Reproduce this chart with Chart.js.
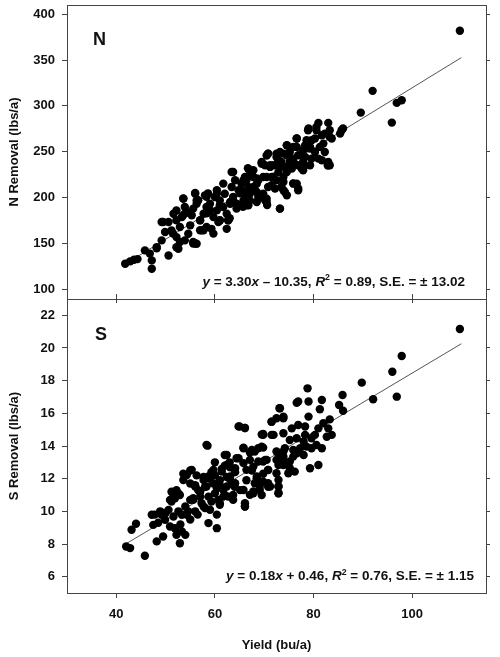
<!DOCTYPE html>
<html>
<head>
<meta charset="utf-8">
<script src="https://cdn.jsdelivr.net/npm/chart.js@4.4.1/dist/chart.umd.min.js"></script>
<style>
  body { margin: 0; background: #fff; }
  #wrap { position: relative; width: 500px; height: 657px; }
  canvas { position: absolute; left: 0; }
  #topChart { top: 0; }
  #bottomChart { top: 294px; }
</style>
</head>
<body>
<div id="wrap">
  <canvas id="topChart" width="500" height="310"></canvas>
  <canvas id="bottomChart" width="500" height="363"></canvas>
</div>
<script>
// x axis (yield) tick labels, shared by both panels
var yieldTicks = [40, 60, 80, 100];
var nTicks = [100, 150, 200, 250, 300, 350, 400];
var sTicks = [6, 8, 10, 12, 14, 16, 18, 20, 22];

// N removal panel: yield (bu/a) and N removal (lbs/a)
var nYield = [41.8, 42.8, 43.6, 44.3, 45.8, 46.8, 47.2, 47.2, 48.2, 49.2, 50.6, 49.2, 50.6, 51.2, 51.6, 52.2,
  52.9, 52.6, 53.3, 53.9, 53.6, 54.6, 55, 55.6, 55.3, 56.3, 56, 56.6, 57, 57.7, 57.3, 58.3, 58.3, 59, 58,
  59.7, 60, 60.4, 60.7, 61, 61.7, 62, 62.4, 62.7, 63.1, 63.4, 63.7, 64.4, 64.8, 65.4, 65.8, 66.4, 66.4,
  67.1, 67.8, 68.5, 68.8, 69.5, 69.8, 70.2, 70.5, 70.8, 62.4, 59.3, 54.3, 49.9, 52.2, 56.3,
  48.2, 52.2, 52.9, 51.5, 49.5, 53.5, 53.9, 56.3, 55.6, 56, 57, 58.3, 58.6, 60.4, 61, 63, 63.7, 63.7,
  65.1, 66.4, 65.7, 66.7, 66.4,
  92, 89.6, 96.9, 97.9, 95.9, 85.7, 85.4, 86, 83, 81, 83.3, 83.3, 83.7, 82.3, 81.7, 80.6, 80.3, 78.9,
  79.6, 78.6, 78.3, 77.9, 79.3, 80.3, 81.3, 82, 82.3, 81.7, 83, 83.3, 81, 79.6, 79.3, 77.9, 77.6, 78.3,
  76.9, 76.6, 76.6, 75.9, 75.2, 74.6, 74.6, 73.9, 73.2, 72.9, 72.5, 73.5, 74.2, 75.2, 75.9, 76.2, 76.9,
  75.6, 74.6, 73.9, 72.9, 71.9, 70.8, 71.2, 70.2, 69.5, 71.5, 70.5, 72.5, 73.5, 72.2, 71.5, 75.9, 76.9,
  74.6, 73.2, 69.8, 70.5, 68.8, 67.8, 67.1, 66.4, 65.8, 68.1, 66.8, 66.1, 67.1, 65.8, 68.5, 69.1, 109.7,
  73.9, 70.6, 77.9, 82.9, 75.9,
  53.6, 56, 58.3, 56.6, 60.4, 61.7, 63.4, 64.1, 66.1, 67.1, 68.5, 69.5, 70.8, 71.2, 72.5, 73.2, 74.6,
  76.6, 79, 80.6, 77.9, 76.6, 76.9, 74.2, 73.2, 70.5, 69.8, 66.8, 66.4, 62.7, 61, 59, 57, 55.6, 53.9,
  52.2, 57.7, 59.7, 64.4, 67.8, 71.8, 75.2, 79.3, 77.9, 73.9, 68.5, 65.4, 63.1, 61];
var nRemoval = [128, 130.5, 132.3, 133, 142.5, 139, 131.6, 122.5, 146.1, 153.4, 137, 173.4, 173.4, 164.3,
  182.5, 157, 168, 144.3, 178.9, 153.4, 198.9, 160.7, 169.8, 151.6, 180.7, 149.8, 204.3, 197, 175.2, 182.5,
  164.3, 168, 189.8, 193.4, 202.5, 178.9, 200.7, 186.1, 173.4, 197, 189.8, 204.3, 182.5, 175.2, 193.4,
  211.6, 200.7, 188, 208, 215.2, 197, 222.5, 191.6, 204.3, 229.8, 215.2, 200.7, 237, 222.5, 197, 246,
  211.6, 166, 166, 184, 162.5, 186, 193.4,
  144.7, 146, 151.6, 161, 173.4, 180.6, 189.8, 197, 150, 150, 164.4, 183, 204.7, 208, 175, 177.5, 197,
  228, 204.7, 219, 190, 232, 197,
  316.4, 292.7, 303.3, 306.2, 281.8, 273.5, 269.8, 275.3, 281.5, 281.5, 273.5, 266.2, 264.4, 269.8, 268,
  273.5, 264.4, 273.5, 262.5, 262.5, 257, 251.6, 253.5, 249.8, 255.3, 258.9, 249.8, 240.7, 238.9, 235.3,
  242.5, 242.5, 235.3, 238.9, 231.6, 244.4, 246.2, 255.3, 264.4, 255.3, 249.8, 257, 246.2, 248, 249.8,
  240.7, 244.4, 238.9, 233.5, 240.7, 242.5, 237.1, 235.3, 231.6, 228, 222.5, 228, 235.3, 248, 233.5,
  235.3, 238.9, 222.5, 222.5, 218.9, 211.6, 209.8, 213.5, 215.3, 208, 202.5, 188, 204.4, 198.9, 218.9,
  222.5, 229.8, 222.5, 218.9, 208, 211.6, 204.4, 197, 193.5, 195.3, 200.7, 382,
  208, 192, 232, 235, 215.5,
  199, 205, 200.8, 197.1, 204.4, 215.3, 228, 218.9, 222.6, 229.9, 220.8, 237.9, 248, 235.3, 248, 233.5,
  257.1, 264.4, 275.3, 277.1, 244.4, 215.3, 209.9, 206.2, 188, 195.3, 202.6, 191.7, 200.8, 175.3, 175.3,
  186.2, 175.3, 188, 182.6, 175.3, 164.4, 160.8, 193.5, 211.7, 222.6, 237.1, 255.3, 229.9, 217.1, 206.2,
  208, 195.3, 191.7];
// slope, intercept, R2, S.E.
var nFit = [3.30, -10.35, 0.89, 13.02];

// S removal panel: yield (bu/a) and S removal (lbs/a)
var sYield = [42, 42.8, 45.8, 43.1, 44, 47.2, 47.5, 48.2, 49.5, 49.2, 49.9, 50.6, 51.2, 51.2, 52.2, 51.6,
  50.9, 51.9, 52.2, 52.9, 53.3, 54, 54.3, 53.3, 52.6, 53.6, 55, 55, 55.6, 56, 56.6, 57.3, 57.7, 58.3, 58.7,
  58.7, 59, 59.3, 59.7, 60, 60.4, 60.7, 61, 61.4, 61.7, 62, 62.4, 62.7, 63.1, 63.4, 63.7, 64.1, 64.4, 64.8,
  66.1, 65.1, 65.8, 65.8, 66.1, 66.4, 67.1, 67.5, 67.8, 68.5, 68.8, 69.5, 69.8, 69.8, 70.5, 70.8,
  55, 57, 60.4, 56.3, 51.6, 52.6, 58, 59, 60, 61, 62, 63, 64, 61, 62, 63, 60, 57, 58, 56, 53, 54, 55, 56.5,
  50, 48.5,
  109.7, 97.9, 96, 96.9, 89.8, 92.1, 85.9, 85.2, 86, 78.8, 76.9, 79, 81.7, 81.3, 73.1, 73.9, 72.5, 71.5,
  83.3, 82, 83, 83.7, 82.7, 79, 81, 80.3, 78.3, 76.9, 75.6, 78.3, 76.6, 73.9, 71.9, 69.8, 75.2, 78, 79.6,
  80.6, 79.6, 81.7, 78.6, 77.3, 75.9, 74.2, 76.6, 78, 75.9, 73.9, 72.9, 73.5, 72.5, 74.2, 72.9, 75.2, 76.2,
  74.9, 79.3, 81, 69.5, 68.1, 69.8, 67.8, 70.8, 68.5, 69.8, 70.8, 72.5, 72.9, 72.9, 72.9, 69.1, 67.8,
  69.5, 68.1,
  58.5, 65, 66.1, 73.2, 73.9, 76.6, 71.5, 69.8, 71.5, 65.8, 67.5, 68.8, 62.4, 64.8, 67.1, 70.2, 72.5, 73.9,
  75.2, 73.9, 70.8, 68.5, 66.4, 64.1, 62.4, 61.4, 63.1, 59.7, 58.7, 57.7, 55.3, 54.3, 53.6, 56, 57, 58.3,
  60.4, 62.4, 64.1, 65.8, 67.1, 69.1, 71.2, 72.9, 72.9, 61.7, 63.7, 59.3, 61, 57.7, 55.6, 52.9, 51.9, 50.9,
  66.1, 66.1, 54.6, 48.9, 47.8];
var sRemoval = [7.85, 7.75, 7.28, 8.87, 9.24, 9.79, 9.17, 8.16, 8.46, 9.79, 9.48, 10.09, 10.6, 11.2, 11.3,
  9.68, 9.07, 8.97, 8.56, 8.05, 8.77, 8.56, 9.79, 9.79, 10, 12.3, 12.5, 11.7, 10.7, 10, 11.3, 10.5, 12.1,
  14.07, 10.9, 9.28, 10.1, 12.4, 11.7, 11.1, 8.97, 10.7, 11.9, 12.6, 11.3, 13.45, 12.1, 10.9, 12.7, 11.7,
  10.7, 12.4, 13.25, 15.2, 15.1, 11.3, 13.9, 12.95, 10.3, 11.9, 13.6, 12.5, 11.1, 11.9, 13.05, 14.7, 13.9,
  12.3, 13.15, 11.5,
  10.7, 10.9, 9.8, 12.2, 10.9, 11.1, 11.5, 12, 12.2, 11.6, 12.8, 12, 11.5, 10.5, 11, 13, 13, 11.2, 10.2,
  11.6, 9.2, 10.3, 9.5, 9.8, 9.9, 9.3,
  21.16, 19.51, 18.55, 17.02, 17.88, 16.86, 17.12, 16.51, 16.16, 17.53, 16.72, 16.72, 16.82, 16.25, 16.31,
  15.7, 15.7, 15.49, 15.63, 15.39, 15.08, 14.68, 14.57, 15.8, 15.08, 14.68, 15.19, 15.29, 15.08, 14.68,
  14.47, 14.78, 14.68, 14.68, 14.37, 14.27, 14.47, 14.06, 13.86, 13.86, 13.96, 13.86, 13.76, 13.86, 13.55,
  13.45, 13.35, 13.66, 13.55, 13.15, 13.15, 12.94, 12.84, 12.64, 12.43, 12.33, 12.64, 12.84, 13.96, 13.66,
  13.05, 12.74, 12.53, 12.13, 11.82, 11.72, 12.33, 11.92, 11.52, 11.11, 11.52, 11.21, 11, 11.72,
  14.02, 15.19, 15.1, 16.31, 15.8, 16.65, 15.49, 14.74, 14.68, 13.86, 13.76, 13.86, 13.45, 13.25, 13.15,
  13.15, 13.66, 13.35, 13.05, 12.84, 12.54, 12.03, 12.54, 12.64, 12.84, 12.43, 12.13, 12.54, 12.13, 11.92,
  12.54, 12.23, 11.92, 11.52, 11.21, 11.52, 11.41, 11.52, 11.72, 11.31, 11.01, 11.31, 11.52, 11.11, 11.52,
  10.9, 11, 10.6, 10.4, 10.3, 10.8, 11, 10.8, 10.7, 10.5, 10.3, 10, 10, 9.8];
var sFit = [0.18, 0.46, 0.76, 1.15];
// the fitted lines run over this yield range
var fitRange = [42, 110];

var FONT = "'Liberation Sans', Arial, sans-serif";
var INK = '#111';
var FRAME = '#444';

function toPoints(xs, ys) {
  return xs.map(function (x, i) { return { x: x, y: ys[i] }; });
}

function fitLine(fit) {
  return fitRange.map(function (x) { return { x: x, y: fit[0] * x + fit[1] }; });
}

function fixedTicks(list) {
  return function (scale) {
    scale.ticks = list.map(function (v) { return { value: v }; });
  };
}

function eqParts(fit) {
  var sign = fit[1] < 0 ? ' \u2013 ' : ' + ';
  return [
    { t: 'y', it: true },
    { t: ' = ' + fit[0].toFixed(2) },
    { t: 'x', it: true },
    { t: sign + Math.abs(fit[1]).toFixed(2) + ', ' },
    { t: 'R', it: true },
    { t: '2', sup: true },
    { t: ' = ' + fit[2].toFixed(2) + ', S.E. = \u00b1 ' + fit[3].toFixed(2) }
  ];
}

// frame round the plot area
var framePlugin = {
  id: 'frame',
  afterDraw: function (chart) {
    var a = chart.chartArea, ctx = chart.ctx;
    ctx.save();
    ctx.strokeStyle = FRAME;
    ctx.lineWidth = 1;
    ctx.strokeRect(Math.round(a.left) + 0.5, Math.round(a.top) + 0.5,
      Math.round(a.right - a.left), Math.round(a.bottom - a.top));
    ctx.restore();
  }
};

// panel letter and regression equation
var panelText = {
  id: 'panelText',
  afterDatasetsDraw: function (chart, args, o) {
    var a = chart.chartArea, ctx = chart.ctx;
    ctx.save();
    ctx.fillStyle = INK;
    ctx.textBaseline = 'middle';
    ctx.font = 'bold 18px ' + FONT;
    ctx.fillText(o.letter, a.left + o.letterX, a.top + o.letterY);

    var size = 13.5;
    var parts = eqParts(o.fit);
    function fontOf(p) {
      return (p.it ? 'italic ' : '') + 'bold ' + (p.sup ? size * 0.65 : size) + 'px ' + FONT;
    }
    var total = 0;
    parts.forEach(function (p) { ctx.font = fontOf(p); total += ctx.measureText(p.t).width; });
    var x = a.right - o.eqRight - total;
    var y = a.bottom - o.eqBottom;
    parts.forEach(function (p) {
      ctx.font = fontOf(p);
      ctx.fillText(p.t, x, p.sup ? y - 4 : y);
      x += ctx.measureText(p.t).width;
    });
    ctx.restore();
  }
};

var tickFont = { family: FONT, size: 13, weight: 'bold' };

function panelOptions(yMin, yMax, yTicks, yTitle, isBottom, textOpts) {
  var scales = {
    y: {
      min: yMin, max: yMax,
      afterBuildTicks: fixedTicks(yTicks),
      // fixed width, and no extra room kept for the end labels
      afterFit: function (s) { s.width = 67; s.paddingTop = 0; s.paddingBottom = 0; },
      border: { display: false },
      grid: { drawOnChartArea: false, tickLength: 5, color: FRAME },
      ticks: { font: tickFont, color: INK, padding: 7 },
      title: { display: true, text: yTitle, font: tickFont, color: INK, padding: { top: 7, bottom: 0 } }
    },
    yr: {
      position: 'right',
      min: yMin, max: yMax,
      afterBuildTicks: fixedTicks(yTicks),
      afterFit: function (s) { s.width = 14; s.paddingTop = 0; s.paddingBottom = 0; },
      border: { display: false },
      grid: { drawOnChartArea: false, tickLength: 4, color: FRAME },
      ticks: { display: false }
    }
  };
  if (isBottom) {
    scales.x = {
      type: 'linear', position: 'bottom', min: 30, max: 115,
      afterBuildTicks: fixedTicks(yieldTicks),
      afterFit: function (s) { s.height = 64; s.paddingLeft = 0; s.paddingRight = 0; },
      border: { display: false },
      grid: { drawOnChartArea: false, tickLength: 5, color: FRAME },
      ticks: { font: tickFont, color: INK, padding: 9 },
      title: { display: true, text: 'Yield (bu/a)', font: tickFont, color: INK, padding: { top: 0, bottom: 4 } }
    };
    scales.xt = {
      type: 'linear', position: 'top', min: 30, max: 115,
      afterBuildTicks: fixedTicks(yieldTicks),
      afterFit: function (s) { s.height = 5; },
      border: { display: false },
      grid: { drawOnChartArea: false, tickLength: 5, color: FRAME },
      ticks: { display: false }
    };
  } else {
    scales.x = {
      type: 'linear', position: 'bottom', min: 30, max: 115,
      afterBuildTicks: fixedTicks(yieldTicks),
      afterFit: function (s) { s.height = 11; },
      border: { display: false },
      grid: { drawOnChartArea: false, tickLength: 4, color: FRAME },
      ticks: { display: false }
    };
  }
  return {
    responsive: false,
    animation: false,
    layout: { padding: { top: isBottom ? 0 : 5, left: 0, right: 0, bottom: 0 } },
    plugins: { legend: { display: false }, tooltip: { enabled: false }, panelText: textOpts },
    scales: scales
  };
}

function datasets(xs, ys, fit) {
  return [
    {
      data: toPoints(xs, ys),
      backgroundColor: '#000', borderWidth: 0,
      pointRadius: 4.2, pointHoverRadius: 4.2, order: 0
    },
    {
      data: fitLine(fit), showLine: true,
      borderColor: '#555', borderWidth: 1, pointRadius: 0, order: 1
    }
  ];
}

new Chart(document.getElementById('topChart'), {
  type: 'scatter',
  data: { datasets: datasets(nYield, nRemoval, nFit) },
  options: panelOptions(89.5, 410, nTicks, 'N Removal (lbs/a)', false,
    { letter: 'N', letterX: 26, letterY: 35, fit: nFit, eqRight: 21, eqBottom: 17 }),
  plugins: [framePlugin, panelText]
});

new Chart(document.getElementById('bottomChart'), {
  type: 'scatter',
  data: { datasets: datasets(sYield, sRemoval, sFit) },
  options: panelOptions(5, 23, sTicks, 'S Removal (lbs/a)', true,
    { letter: 'S', letterX: 28, letterY: 36, fit: sFit, eqRight: 12, eqBottom: 16.5 }),
  plugins: [framePlugin, panelText]
});
</script>
</body>
</html>
